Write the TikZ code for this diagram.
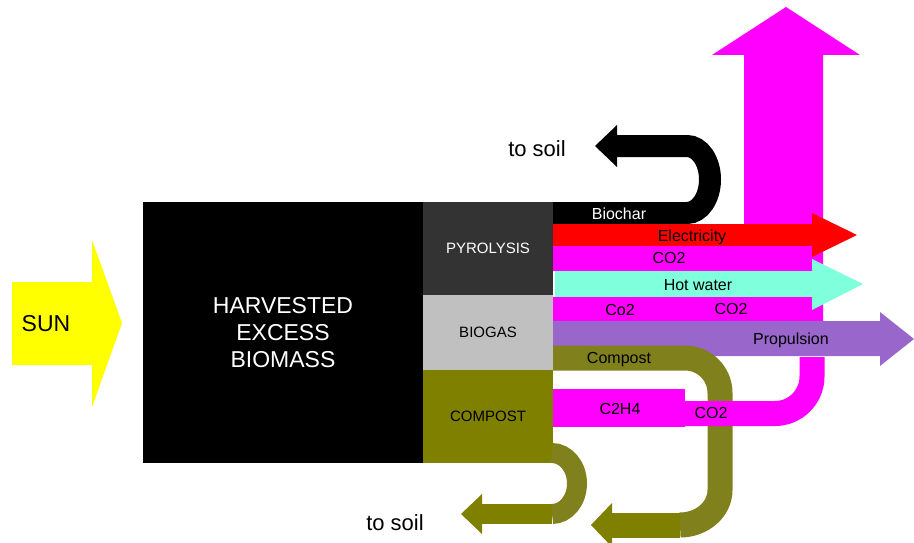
\documentclass[tikz,border=0pt]{standalone}
\usepackage{fontspec}
\setmainfont{Liberation Sans}
\usetikzlibrary{positioning}
\definecolor{sunyellow}{RGB}{255,255,0}
\definecolor{pyrogray}{RGB}{51,51,51}
\definecolor{biogasgray}{RGB}{192,192,192}
\definecolor{compostolive}{RGB}{128,128,0}
\definecolor{compostflow}{RGB}{128,128,28}
\definecolor{gasmagenta}{RGB}{255,0,255}
\definecolor{hotwater}{RGB}{128,255,220}
\definecolor{propviolet}{RGB}{153,102,204}

\begin{document}
\begin{tikzpicture}[x=1pt, y=-1pt,
    stage/.style={anchor=north west, inner sep=0pt, outer sep=0pt, align=center, font=\fontsize{15}{18}\selectfont},
    flowlabel/.style={inner sep=0pt, text height=11pt, text depth=0pt, font=\fontsize{16}{19}\selectfont},
    biglabel/.style={inner sep=0pt, text height=16pt, text depth=0pt, font=\fontsize{23}{27}\selectfont}
]
\useasboundingbox (0,0) rectangle (914,543);

% Sun
\fill[sunyellow] (12,282) -- (92,282) -- (92,240) -- (122,323) -- (92,407) -- (92,365) -- (12,365) -- cycle;
\node[biglabel] (sun) at (46,323) {SUN};

% Stages
\node[stage, fill=black, text=white, minimum width=280pt, minimum height=261pt, font=\fontsize{23}{27}\selectfont] (biomass) at (143,202) {HARVESTED\\EXCESS\\BIOMASS};
\node[stage, fill=pyrogray, text=white, minimum width=130pt, minimum height=93pt] (pyrolysis) at (biomass.north east) {PYROLYSIS};
\node[stage, fill=biogasgray, minimum width=130pt, minimum height=75pt] (biogas) at (pyrolysis.south west) {BIOGAS};
\node[stage, fill=compostolive, minimum width=130pt, minimum height=93pt] (compost) at (biogas.south west) {COMPOST};

% Exhaust arrow
\fill[gasmagenta] (744,321) -- (744,55) -- (712,55) -- (786,7) -- (860,55) -- (823,55) -- (823,321) -- cycle;

% Biochar
\draw[black, line width=22pt] (553,213) -- (687,213) arc[start angle=90, end angle=-90, x radius=23, y radius=33.5] -- (617,146);
\fill[black] (617,125) -- (595,146) -- (617,167) -- cycle;

% Electricity
\fill[red] (553,224) -- (812,224) -- (812,213) -- (857,235) -- (812,257) -- (812,246) -- (553,246) -- cycle;

% CO2 from pyrolysis
\fill[gasmagenta] (553,246) rectangle (812,271);

% Hot water
\fill[hotwater] (555,271) -- (812,271) -- (812,259) -- (863,284) -- (812,310) -- (812,297) -- (555,297) -- cycle;

% CO2 from biogas
\fill[gasmagenta] (553,297) rectangle (812,321);

% Propulsion
\fill[propviolet] (553,321) -- (880,321) -- (880,312) -- (914,339) -- (880,366) -- (880,356) -- (553,356) -- cycle;

% Compost back
\draw[compostflow, line width=25pt] (553,358) -- (685,358) arc[start angle=-90, end angle=0, radius=35] -- (720,490) arc[start angle=0, end angle=90, x radius=40, y radius=35];
\fill[compostolive] (680,512.5) rectangle (612,537.5);
\fill[compostolive] (612,503) -- (591,525) -- (612,547) -- cycle;

% C2H4 and CO2 from compost
\fill[gasmagenta] (553,389) rectangle (685,427);
\draw[gasmagenta, line width=25pt] (685,413.5) -- (775,413.5) arc[start angle=90, end angle=0, radius=37] -- (812,357);

% Compost to soil
\draw[compostflow, line width=20pt] (552,453) arc[start angle=-90, end angle=90, x radius=25, y radius=30.5];
\fill[compostolive] (552,504) rectangle (482,524);
\fill[compostolive] (482,494) -- (461,514) -- (482,534) -- cycle;

% Labels
\node[flowlabel, text=white] (biochar) at (619,214) {Biochar};
\node[flowlabel] (electricity) at (692,236) {Electricity};
\node[flowlabel] (co2pyro) at (669,258) {CO2};
\node[flowlabel] (hotwaterlbl) at (698,285) {Hot water};
\node[flowlabel] (co2biogas) at (620,310) {Co2};
\node[flowlabel] (co2biogasb) at (731,309) {CO2};
\node[flowlabel] (propulsion) at (791,339) {Propulsion};
\node[flowlabel] (compostlbl) at (619,358) {Compost};
\node[flowlabel] (c2h4) at (620,409) {C2H4};
\node[flowlabel] (co2compost) at (711,413) {CO2};
\node[biglabel, font=\fontsize{22}{26}\selectfont] (soiltop) at (537,149) {to soil};
\node[biglabel, font=\fontsize{22}{26}\selectfont] (soilbottom) at (395,522) {to soil};

\end{tikzpicture}
\end{document}
